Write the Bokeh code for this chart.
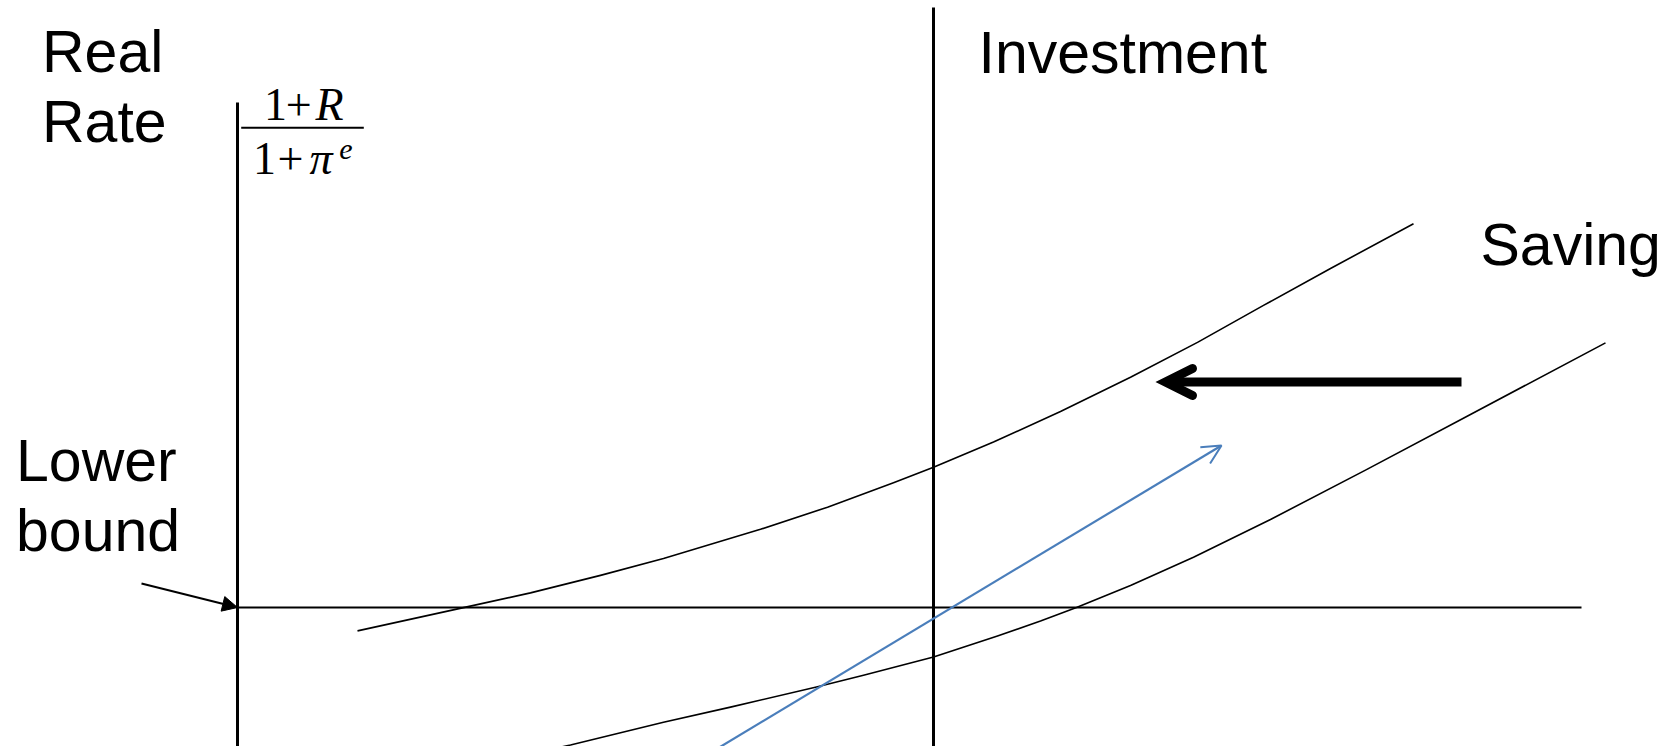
from bokeh.plotting import figure
from bokeh.models import Range1d, Arrow, OpenHead, NormalHead, ColumnDataSource
from bokeh.core.properties import value
from bokeh.embed import file_html
from bokeh.resources import INLINE

# ---- diagram data (x: quantity, y: real rate relative to the lower bound) ----
saving1_x = [120, 226, 293, 363, 426, 523, 590, 656, 696, 756, 823, 893, 960, 1026, 1093, 1176]
saving1_y = [-23.4, -0.1, 14.6, 32.1, 49.1, 78.2, 100.3, 124.7, 140.3, 165.5, 196, 230.3, 265.1, 302.1, 339, 383.8]

saving2_x = [303, 333, 426, 493, 580, 626, 696, 760, 803, 839, 893, 956, 1033, 1128, 1224, 1368]
saving2_y = [-144, -137.5, -114.7, -99.6, -79.2, -67.7, -49.5, -28.4, -13.6, -0.1, 22, 50.3, 88, 137.4, 188.3, 264.6]

lower_bound = 0
lower_bound_x = [0, 1344]
axis_x = 0
axis_top = 505
investment_x = 696
investment_top = 600
bottom = -150

blue_arrow = dict(x0=475, y0=-144, x1=984, y1=162)
shift_arrow = dict(x0=1224, y0=225.5, x1=928, y1=225.5)
bound_arrow = dict(x0=-96, y0=24, x1=0, y1=0)

labels = ["Real", "Rate", "Investment", "Saving", "Lower", "bound"]
labels_x = [-195.5, -195.5, 741, 1243, -221.5, -221.5]
labels_y = [555.2, 485.2, 554.5, 362.8, 146.8, 76.8]

num_text = ["1", "+", "R"]
num_x = [38, 61.3, 92]
num_y = 503.2
num_style = ["normal", "normal", "italic"]
den_text = ["1", "+", "\u03c0"]
den_x = [27, 53, 83.5]
den_y = 448.8
den_style = ["normal", "normal", "italic"]
sup_text = ["e"]
sup_x = [108.5]
sup_y = 458.2
frac_bar_x = [3.7, 126.3]
frac_bar_y = 479.7

# ---- figure ----
p = figure(width=1669, height=746,
           x_range=Range1d(-237, 1432), y_range=Range1d(-139, 607),
           output_backend="svg", toolbar_location=None, min_border=0,
           x_axis_type=None, y_axis_type=None,
           outline_line_color=None,
           background_fill_color="white", border_fill_color="white")
p.xgrid.grid_line_color = None
p.ygrid.grid_line_color = None

BLACK = "#000000"
BLUE = "#4A7EBB"

# axes-like lines
p.segment(x0=[axis_x, investment_x], y0=[bottom, bottom],
          x1=[axis_x, investment_x], y1=[axis_top, investment_top],
          line_color=BLACK, line_width=3)
p.line(x=lower_bound_x, y=[lower_bound, lower_bound], line_color=BLACK, line_width=1.8)

# saving curves
p.line(x=saving1_x, y=saving1_y, line_color=BLACK, line_width=1.6, line_join="round")
p.line(x=saving2_x, y=saving2_y, line_color=BLACK, line_width=1.6, line_join="round")

# blue arrow
p.add_layout(Arrow(end=OpenHead(size=19, line_color=BLUE, line_width=2),
                   x_start=blue_arrow["x0"], y_start=blue_arrow["y0"],
                   x_end=blue_arrow["x1"], y_end=blue_arrow["y1"],
                   line_color=BLUE, line_width=2.2))

# thick shift arrow
p.add_layout(Arrow(end=OpenHead(size=27, line_color=BLACK, line_width=9,
                                line_cap="round", line_join="miter"),
                   x_start=shift_arrow["x0"], y_start=shift_arrow["y0"],
                   x_end=shift_arrow["x1"], y_end=shift_arrow["y1"],
                   line_color=BLACK, line_width=9, line_cap="butt"))

# lower bound pointer
p.add_layout(Arrow(end=NormalHead(size=15, fill_color=BLACK, line_color=BLACK, line_width=1),
                   x_start=bound_arrow["x0"], y_start=bound_arrow["y0"],
                   x_end=bound_arrow["x1"], y_end=bound_arrow["y1"],
                   line_color=BLACK, line_width=2))

# labels
p.text(x=labels_x, y=labels_y, text=labels,
       text_font=value("Liberation Sans"), text_font_size="59px",
       text_baseline="alphabetic", text_align="left", text_color=BLACK)

# fraction (1+R)/(1+pi^e)
num_src = ColumnDataSource(dict(x=num_x, y=[num_y] * len(num_x), t=num_text, s=num_style))
den_src = ColumnDataSource(dict(x=den_x, y=[den_y] * len(den_x), t=den_text, s=den_style))
for src in (num_src, den_src):
    p.text(x="x", y="y", text="t", source=src, text_font_style="s",
           text_font=value("Liberation Serif"), text_font_size="46px",
           text_baseline="alphabetic", text_align="center", text_color=BLACK)
p.text(x=sup_x, y=[sup_y], text=sup_text, text_font_style="italic",
       text_font=value("Liberation Serif"), text_font_size="30px",
       text_baseline="alphabetic", text_align="center", text_color=BLACK)
p.line(x=frac_bar_x, y=[frac_bar_y, frac_bar_y], line_color=BLACK, line_width=2)

open("out.html", "w").write(file_html(p, INLINE))
